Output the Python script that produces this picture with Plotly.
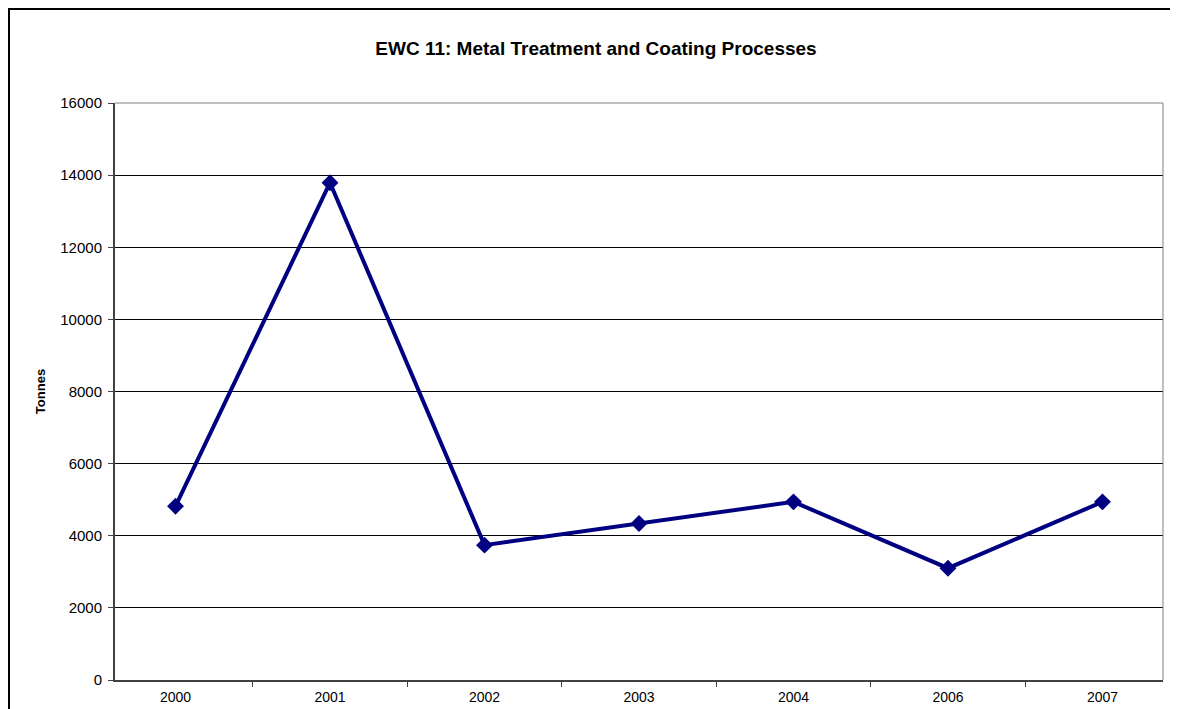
import plotly.graph_objects as go

years = ["2000", "2001", "2002", "2003", "2004", "2006", "2007"]
tonnes = [4820, 13790, 3740, 4340, 4940, 3100, 4940]

# the page body adds an 8px offset, so the figure is sized to fit the window
OFF = 8
W, H = 1178 - OFF, 709 - OFF
L, R, T, B = 115 - OFF, 15, 103 - OFF, 29
pw, ph = W - L - R, H - T - B


def px(x):
    return (x - OFF - L) / pw


def py(y):
    return (H - B - (y - OFF)) / ph


fig = go.Figure()
fig.add_trace(go.Scatter(
    x=years, y=tonnes, mode="lines+markers",
    line=dict(color="#000080", width=4),
    marker=dict(symbol="diamond", size=13, color="#000080"),
    showlegend=False,
))

fig.update_layout(
    width=W, height=H,
    margin=dict(l=L, r=R, t=T, b=B),
    paper_bgcolor="white", plot_bgcolor="white",
    font=dict(family="Liberation Sans, Arial", size=14, color="black"),
    title=dict(
        text="<b>EWC 11: Metal Treatment and Coating Processes</b>",
        x=(596 - OFF) / W, xanchor="center",
        y=1 - (48 - OFF) / H, yanchor="middle",
        font=dict(size=19, color="black"),
    ),
    xaxis=dict(
        type="category", tickson="boundaries", ticks="outside", ticklen=5,
        tickcolor="#404040", showline=True, linecolor="#404040", linewidth=2,
        showgrid=False, mirror=False, tickfont=dict(size=14), automargin=False,
        ticklabelstandoff=3,
    ),
    yaxis=dict(
        range=[0, 16000], dtick=2000, tickformat="d", ticks="outside", ticklen=5,
        tickcolor="#404040", showline=True, linecolor="#404040", linewidth=2,
        showgrid=True, gridcolor="#000000", gridwidth=1, zeroline=False,
        title=dict(text="<b>Tonnes</b>", font=dict(size=13), standoff=12),
        tickfont=dict(size=15), automargin=False, ticklabelstandoff=3,
    ),
)

# plot-area frame (top and right)
fig.add_shape(type="line", xref="paper", yref="paper", x0=0, x1=1, y0=1, y1=1,
              line=dict(color="#808080", width=1))
fig.add_shape(type="line", xref="paper", yref="paper", x0=1, x1=1, y0=0, y1=1,
              line=dict(color="#808080", width=1))

# outer chart border
fig.add_shape(type="rect", xref="paper", yref="paper",
              x0=px(9), x1=px(1195), y0=py(730), y1=py(9),
              line=dict(color="black", width=2), fillcolor="rgba(0,0,0,0)",
              layer="below")

fig.write_html("out.html")
